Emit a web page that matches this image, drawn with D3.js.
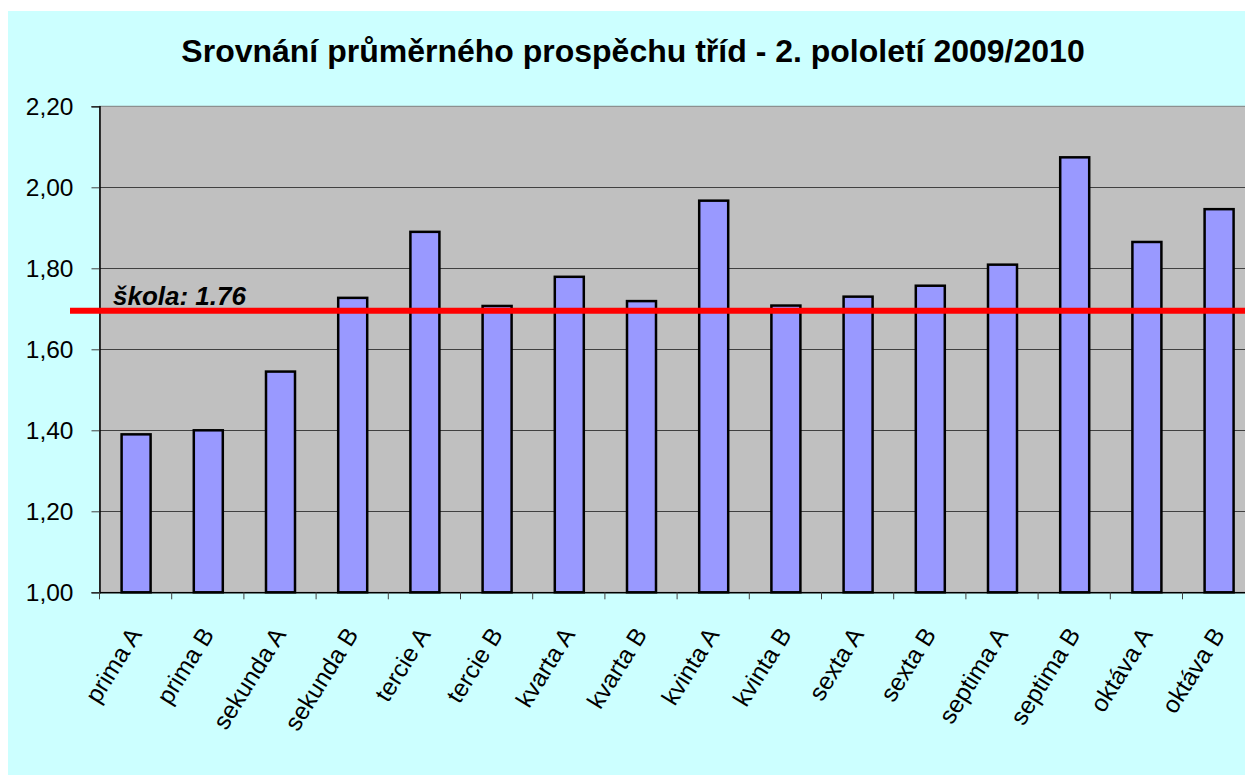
<!DOCTYPE html>
<html>
<head>
<meta charset="utf-8">
<script src="https://cdn.jsdelivr.net/npm/d3@7"></script>
<style>
  html, body { margin: 0; padding: 0; background: #ffffff; }
  svg { display: block; }
</style>
</head>
<body>
<svg id="chart" width="1245" height="776"></svg>
<script>
const title = "Srovnání průměrného prospěchu tříd - 2. pololetí 2009/2010";
const categories = ["prima A", "prima B", "sekunda A", "sekunda B", "tercie A", "tercie B",
  "kvarta A", "kvarta B", "kvinta A", "kvinta B", "sexta A", "sexta B",
  "septima A", "septima B", "oktáva A", "oktáva B"];
const values = [1.39, 1.40, 1.545, 1.727, 1.89, 1.707, 1.779, 1.719, 1.967, 1.708, 1.73, 1.757,
  1.809, 2.074, 1.865, 1.946];
const yTicks = [1.00, 1.20, 1.40, 1.60, 1.80, 2.00, 2.20];
const schoolLabel = "škola: 1.76";
const schoolLineValue = 1.695;

const svg = d3.select("#chart");
const W = 1245, H = 776;
const FONT = "'Liberation Sans', Arial, sans-serif";

// chart area background
svg.append("rect").attr("x", 8).attr("y", 11).attr("width", W - 8).attr("height", 764)
  .attr("fill", "#CCFFFF");

const plot = { left: 99.5, top: 106.3, bottom: 592.3, right: 99.5 + 16 * 72.2 };

const x = d3.scaleBand().domain(categories).range([plot.left, plot.right]).paddingInner(0).paddingOuter(0);
const y = d3.scaleLinear().domain([1.0, 2.2]).range([plot.bottom, plot.top]);

// plot area
svg.append("rect").attr("x", plot.left).attr("y", plot.top)
  .attr("width", plot.right - plot.left).attr("height", plot.bottom - plot.top)
  .attr("fill", "#C0C0C0").attr("stroke", "#808080").attr("stroke-width", 1);

// gridlines
svg.append("g").selectAll("line").data(yTicks.filter(d => d > 1 && d < 2.2)).join("line")
  .attr("x1", plot.left).attr("x2", plot.right)
  .attr("y1", d => Math.round(y(d)) + 0.5).attr("y2", d => Math.round(y(d)) + 0.5)
  .attr("stroke", "#404040").attr("stroke-width", 1);

// y axis
const yAxis = d3.axisLeft(y).tickValues(yTicks).tickSize(8).tickPadding(18)
  .tickFormat(d => d3.format(".2f")(d).replace(".", ","));
const gy = svg.append("g").attr("transform", `translate(${plot.left},0)`).call(yAxis);
gy.select(".domain").attr("stroke", "#000").attr("stroke-width", 1.5);
gy.selectAll(".tick line").attr("stroke", "#404040");
gy.selectAll(".tick text").attr("font-family", FONT)
  .attr("font-size", 24.5).attr("fill", "#000");

// x axis
const xAxis = d3.axisBottom(x).tickSize(0).tickFormat("");
const gx = svg.append("g").attr("transform", `translate(0,${plot.bottom})`).call(xAxis);
gx.select(".domain").attr("stroke", "#000").attr("stroke-width", 1.5);
// tick marks at band boundaries
const bounds = categories.map(c => x(c)).concat([plot.right]);
svg.append("g").selectAll("line").data(bounds).join("line")
  .attr("x1", d => d).attr("x2", d => d)
  .attr("y1", plot.bottom).attr("y2", plot.bottom + 7)
  .attr("stroke", "#404040").attr("stroke-width", 1);

// x labels
svg.append("g").selectAll("text").data(categories).join("text")
  .attr("transform", d => `translate(${x(d) + x.bandwidth() / 2 + 7},${plot.bottom + 42}) rotate(-58)`)
  .attr("text-anchor", "end")
  .attr("font-family", FONT)
  .attr("font-size", 24.5).attr("fill", "#000")
  .text(d => d);

// bars
const barW = 29;
svg.append("g").selectAll("rect").data(values).join("rect")
  .attr("x", (d, i) => x(categories[i]) + x.bandwidth() / 2 - barW / 2 + 0.5)
  .attr("y", d => y(d))
  .attr("width", barW)
  .attr("height", d => y(1.0) - y(d))
  .attr("fill", "#9999FF").attr("stroke", "#000").attr("stroke-width", 2.5);

// school average line
svg.append("line").attr("x1", 70).attr("x2", W)
  .attr("y1", y(schoolLineValue)).attr("y2", y(schoolLineValue))
  .attr("stroke", "#FF0000").attr("stroke-width", 6);

svg.append("text").attr("x", 113).attr("y", 305)
  .attr("font-family", FONT)
  .attr("font-size", 26).attr("font-weight", "bold").attr("font-style", "italic")
  .attr("fill", "#000").text(schoolLabel);

// title
svg.append("text").attr("x", 633).attr("y", 62).attr("text-anchor", "middle")
  .attr("font-family", FONT)
  .attr("font-size", 32).attr("font-weight", "bold").attr("fill", "#000")
  .text(title);
</script>
</body>
</html>
